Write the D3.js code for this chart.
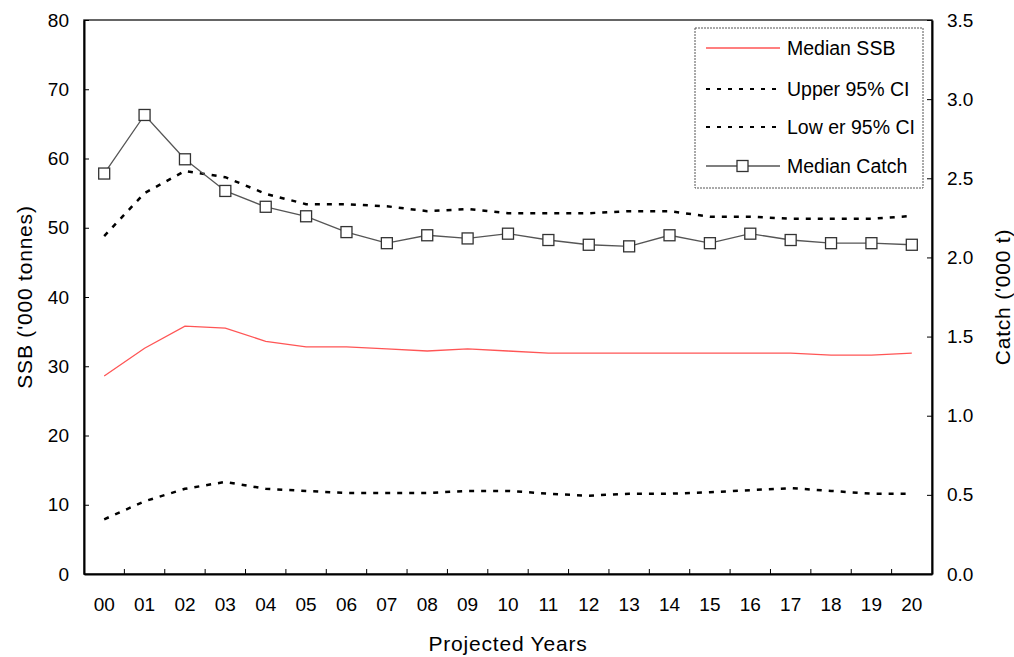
<!DOCTYPE html>
<html>
<head>
<meta charset="UTF-8" />
<script src="https://d3js.org/d3.v7.min.js"></script>
<style>
  body { margin: 0; background: #fff; font-family: "Liberation Sans", Arial, sans-serif; }
  svg text { fill: #000; }
</style>
</head>
<body>
<svg width="1014" height="657"></svg>
<script>
const years = ["00","01","02","03","04","05","06","07","08","09","10","11","12","13","14","15","16","17","18","19","20"];
const medianSSB = [28.6,32.6,35.8,35.5,33.6,32.8,32.8,32.5,32.2,32.5,32.2,31.9,31.9,31.9,31.9,31.9,31.9,31.9,31.6,31.6,31.9];
const upperCI = [48.8,55.0,58.2,57.3,54.9,53.4,53.4,53.1,52.4,52.7,52.1,52.1,52.1,52.4,52.4,51.6,51.6,51.3,51.3,51.3,51.7];
const lowerCI = [7.9,10.5,12.3,13.3,12.3,12.0,11.7,11.7,11.7,12.0,12.0,11.6,11.3,11.6,11.6,11.8,12.1,12.4,12.0,11.6,11.6];
const medianCatch = [2.53,2.90,2.62,2.42,2.32,2.26,2.16,2.09,2.14,2.12,2.15,2.11,2.08,2.07,2.14,2.09,2.15,2.11,2.09,2.09,2.08];
const leftTicks = [0,10,20,30,40,50,60,70,80];
const rightTicks = [0,0.5,1.0,1.5,2.0,2.5,3.0,3.5];

const svg = d3.select("svg");
const pL = 84, pR = 932, pT = 20, pB = 574;
const tickFont = "19px", titleFont = "21px";

const x = d3.scaleBand().domain(years).range([pL, pR]);
const yL = d3.scaleLinear().domain([0, 80]).range([pB, pT]);
const yR = d3.scaleLinear().domain([0, 3.5]).range([pB, pT]);
const cx = d => x(d) + x.bandwidth() / 2;

// frame
svg.append("rect").attr("x", pL).attr("y", pT).attr("width", pR - pL).attr("height", pB - pT)
  .attr("fill", "none").attr("stroke", "#333").attr("stroke-width", 1.5);

// left axis
const gL = svg.append("g").attr("transform", `translate(${pL},0)`)
  .call(d3.axisLeft(yL).tickValues(leftTicks).tickSizeInner(-5).tickSizeOuter(0).tickPadding(15).tickFormat(d3.format("d")));
gL.select(".domain").attr("stroke", "#000").attr("stroke-width", 2);
gL.selectAll("text").style("font-size", tickFont).style("font-family", "Liberation Sans, Arial");

// right axis
const gR = svg.append("g").attr("transform", `translate(${pR},0)`)
  .call(d3.axisRight(yR).tickValues(rightTicks).tickSizeInner(-5).tickSizeOuter(0).tickPadding(15).tickFormat(d3.format(".1f")));
gR.select(".domain").attr("stroke", "#000").attr("stroke-width", 2);
gR.selectAll("text").style("font-size", tickFont).style("font-family", "Liberation Sans, Arial");

// bottom axis
const gB = svg.append("g").attr("transform", `translate(0,${pB})`)
  .call(d3.axisBottom(x).tickSizeInner(0).tickSizeOuter(0).tickPadding(24));
gB.select(".domain").attr("stroke", "#000").attr("stroke-width", 2);
gB.selectAll("text").style("font-size", tickFont).style("font-family", "Liberation Sans, Arial");
// category boundary ticks (inward)
gB.selectAll("line.bnd").data(years.slice(1)).join("line").attr("class", "bnd")
  .attr("x1", d => x(d)).attr("x2", d => x(d)).attr("y1", 0).attr("y2", -5).attr("stroke", "#000");

// axis titles
svg.append("text").attr("x", (pL + pR) / 2).attr("y", 651).attr("text-anchor", "middle")
  .style("font-size", titleFont).style("letter-spacing", "0.8px").text("Projected Years");
svg.append("text").attr("transform", `translate(32,${(pT + pB) / 2}) rotate(-90)`).attr("text-anchor", "middle")
  .style("font-size", titleFont).style("letter-spacing", "0.8px").text("SSB ('000 tonnes)");
svg.append("text").attr("transform", `translate(1010,${(pT + pB) / 2}) rotate(-90)`).attr("text-anchor", "middle")
  .style("font-size", titleFont).style("letter-spacing", "0.8px").text("Catch ('000 t)");

// lines
const lineL = d3.line().x((d, i) => cx(years[i])).y(d => yL(d));
const lineR = d3.line().x((d, i) => cx(years[i])).y(d => yR(d));

svg.append("path").datum(medianSSB).attr("d", lineL).attr("fill", "none").attr("stroke", "#ff5555").attr("stroke-width", 1.3);
svg.append("path").datum(upperCI).attr("d", lineL).attr("fill", "none").attr("stroke", "#000")
  .attr("stroke-width", 2.5).attr("stroke-dasharray", "5,7");
svg.append("path").datum(lowerCI).attr("d", lineL).attr("fill", "none").attr("stroke", "#000")
  .attr("stroke-width", 2.5).attr("stroke-dasharray", "5,7");
svg.append("path").datum(medianCatch).attr("d", lineR).attr("fill", "none").attr("stroke", "#555").attr("stroke-width", 1.3);
svg.append("g").selectAll("rect").data(medianCatch).join("rect")
  .attr("x", (d, i) => cx(years[i]) - 5.5).attr("y", d => yR(d) - 5.5)
  .attr("width", 11).attr("height", 11).attr("fill", "#fff").attr("stroke", "#333").attr("stroke-width", 1.3);

// legend
const legendItems = ["Median SSB", "Upper 95% CI", "Low er 95% CI", "Median Catch"];
const lg = svg.append("g");
lg.append("rect").attr("x", 695).attr("y", 28).attr("width", 228).attr("height", 160)
  .attr("fill", "#fff").attr("stroke", "#555").attr("stroke-dasharray", "2,1");
const ly = [48, 89, 127, 166];
legendItems.forEach((name, i) => {
  const l = lg.append("line").attr("x1", 706).attr("x2", 780).attr("y1", ly[i]).attr("y2", ly[i]);
  if (i === 0) l.attr("stroke", "#ff5555").attr("stroke-width", 1.3);
  else if (i < 3) l.attr("stroke", "#000").attr("stroke-width", 2).attr("stroke-dasharray", "4,7");
  else {
    l.attr("stroke", "#555").attr("stroke-width", 1.3);
    lg.append("rect").attr("x", 737).attr("y", ly[i] - 5.5).attr("width", 11).attr("height", 11)
      .attr("fill", "#fff").attr("stroke", "#333").attr("stroke-width", 1.3);
  }
  lg.append("text").attr("x", 787).attr("y", ly[i] + 7).style("font-size", "19.5px").text(name);
});
</script>
</body>
</html>
